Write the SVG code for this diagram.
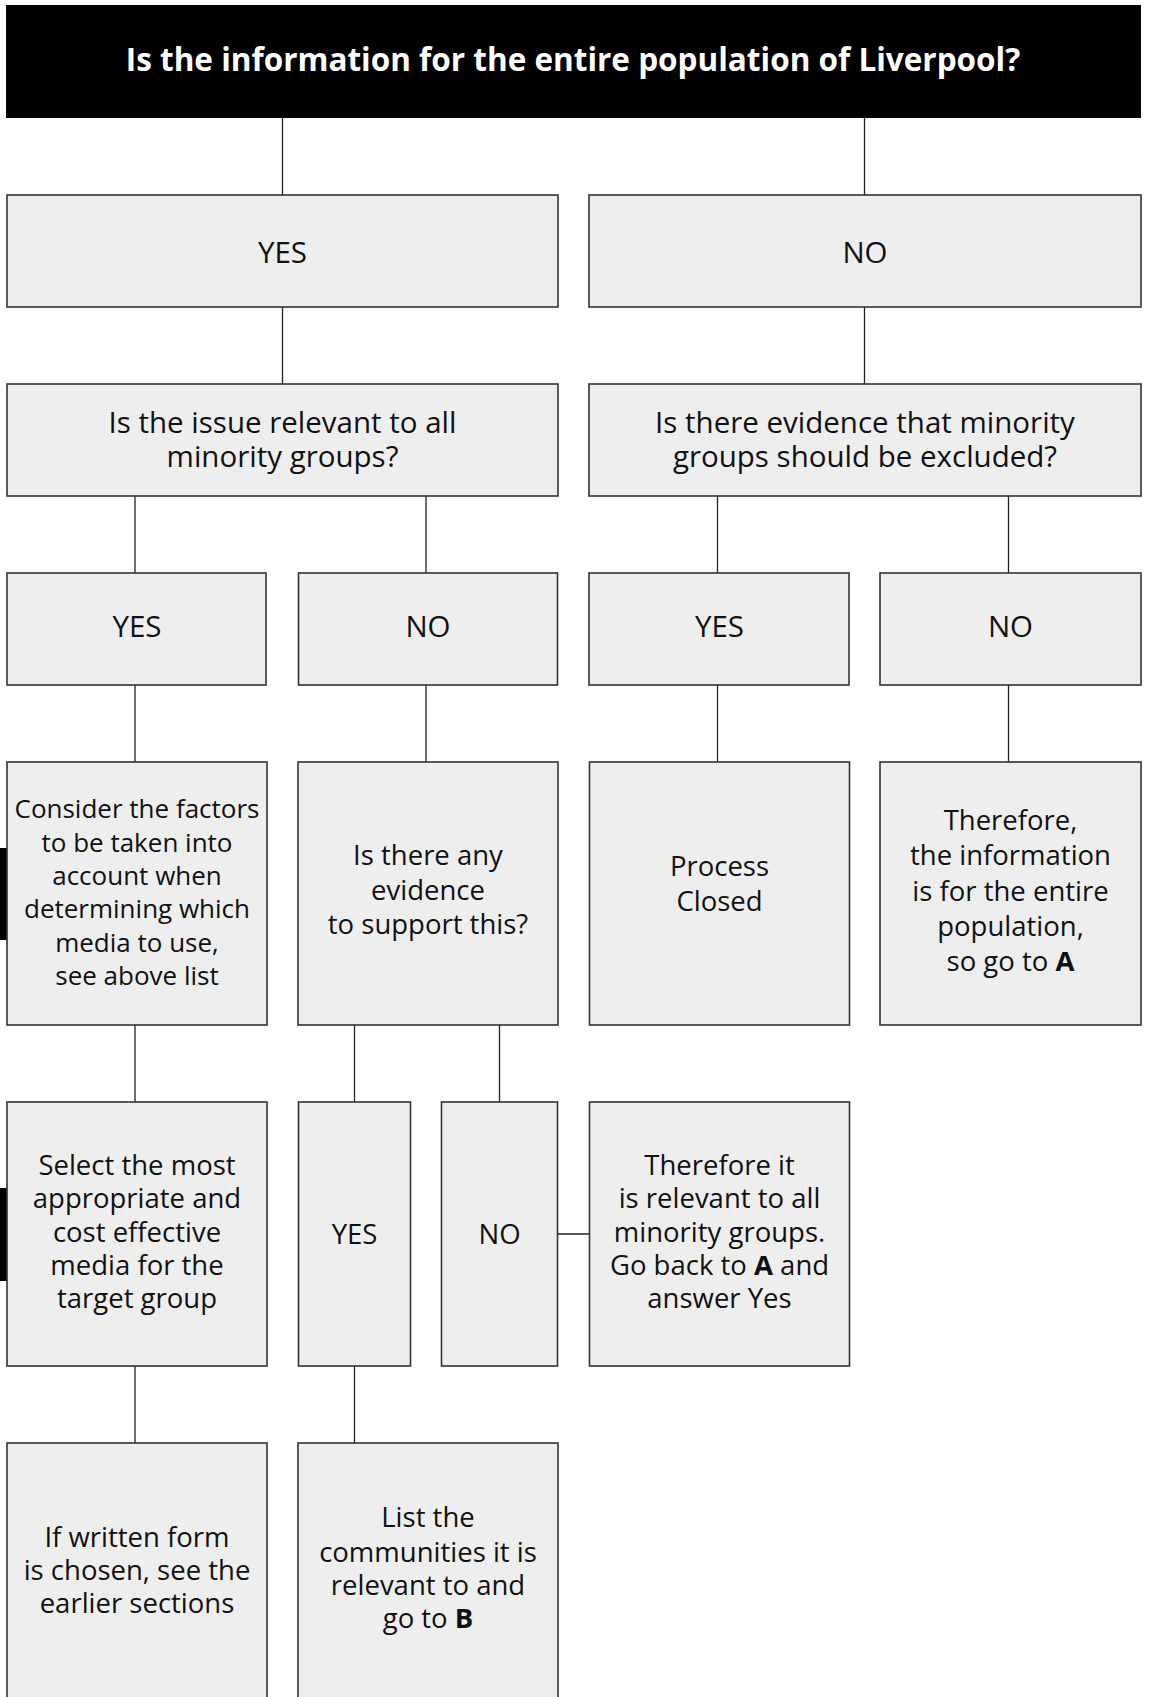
<svg xmlns="http://www.w3.org/2000/svg" width="1150" height="1697" viewBox="0 0 1150 1697">
<style>
.box{fill:#eeeeee;stroke:#333333;stroke-width:1.6}
.c{stroke:#222222;stroke-width:1.3;fill:none}
.t{font-family:"Open Sans","Liberation Sans",sans-serif;text-anchor:middle;fill:#111111}
.s26{font-size:26px}
.s27{font-size:27.5px}
.s29{font-size:29.5px}
.b{font-weight:bold}
</style>
<rect width="1150" height="1697" fill="#ffffff"/>
<rect x="0" y="848" width="7" height="92" fill="#000000"/>
<rect x="0" y="1188" width="7" height="93" fill="#000000"/>
<g id="connectors">
<path class="c" d="M282.5 118V195M282.5 307V384M864.5 118V195M864.5 307V384M135 496V573M135 685V762M135 1025V1102M135 1366V1443M426 496V573M426 685V762M717.5 496V573M717.5 685V762M1008.5 496V573M1008.5 685V762M354.5 1025V1102M354.5 1366V1443M499.5 1025V1102M557.7 1234H589.4"/>
</g>
<g id="title">
<rect x="6" y="5" width="1135" height="113" fill="#000000"/>
<text class="t b" x="573" y="71" style="font-size:31.5px;fill:#ffffff">Is the information for the entire population of Liverpool?</text>
</g>
<g id="yes1">
<rect class="box" x="7" y="195" width="551" height="112"/>
<text class="t s29" x="282.5" y="262.7">YES</text>
</g>
<g id="no1">
<rect class="box" x="589" y="195" width="552" height="112"/>
<text class="t s29" x="865" y="262.7">NO</text>
</g>
<g id="q-relevant">
<rect class="box" x="7" y="384" width="551" height="112"/>
<text class="t s29" x="282.5" y="432.7">Is the issue relevant to all</text>
<text class="t s29" x="282.5" y="467.3">minority groups?</text>
</g>
<g id="q-excluded">
<rect class="box" x="589" y="384" width="552" height="112"/>
<text class="t s29" x="865" y="432.7">Is there evidence that minority</text>
<text class="t s29" x="865" y="467.3">groups should be excluded?</text>
</g>
<g id="yes2">
<rect class="box" x="7" y="573" width="259" height="112"/>
<text class="t s29" x="137" y="636.7">YES</text>
</g>
<g id="no2">
<rect class="box" x="298.5" y="573" width="259" height="112"/>
<text class="t s29" x="428" y="636.7">NO</text>
</g>
<g id="yes3">
<rect class="box" x="589" y="573" width="260" height="112"/>
<text class="t s29" x="719.5" y="636.7">YES</text>
</g>
<g id="no3">
<rect class="box" x="880" y="573" width="261" height="112"/>
<text class="t s29" x="1010.5" y="636.7">NO</text>
</g>
<g id="consider">
<rect class="box" x="7" y="762" width="260" height="263"/>
<text class="t s26" x="137" y="818.3">Consider the factors</text>
<text class="t s26" x="137" y="851.7">to be taken into</text>
<text class="t s26" x="137" y="885">account when</text>
<text class="t s26" x="137" y="918.3">determining which</text>
<text class="t s26" x="137" y="951.7">media to use,</text>
<text class="t s26" x="137" y="985">see above list</text>
</g>
<g id="evidence">
<rect class="box" x="298" y="762" width="260" height="263"/>
<text class="t s27" x="428" y="865">Is there any</text>
<text class="t s27" x="428" y="899.5">evidence</text>
<text class="t s27" x="428" y="934">to support this?</text>
</g>
<g id="closed">
<rect class="box" x="589.5" y="762" width="260" height="263"/>
<text class="t s27" x="719.5" y="876">Process</text>
<text class="t s27" x="719.5" y="911">Closed</text>
</g>
<g id="entire">
<rect class="box" x="880" y="762" width="261" height="263"/>
<text class="t s27" x="1010.5" y="830">Therefore,</text>
<text class="t s27" x="1010.5" y="865">the information</text>
<text class="t s27" x="1010.5" y="900.5">is for the entire</text>
<text class="t s27" x="1010.5" y="935.5">population,</text>
<text class="t s27" x="1010.5" y="970.5">so go to <tspan class="b">A</tspan></text>
</g>
<g id="select">
<rect class="box" x="7" y="1102" width="260" height="264"/>
<text class="t s27" x="137" y="1175">Select the most</text>
<text class="t s27" x="137" y="1208.3">appropriate and</text>
<text class="t s27" x="137" y="1241.7">cost effective</text>
<text class="t s27" x="137" y="1275">media for the</text>
<text class="t s27" x="137" y="1308.3">target group</text>
</g>
<g id="yes4">
<rect class="box" x="298.5" y="1102" width="112" height="264"/>
<text class="t s27" x="354.5" y="1244">YES</text>
</g>
<g id="no4">
<rect class="box" x="441.5" y="1102" width="116" height="264"/>
<text class="t s27" x="499.5" y="1244">NO</text>
</g>
<g id="relevant-all">
<rect class="box" x="589.5" y="1102" width="260" height="264"/>
<text class="t s27" x="719.5" y="1175">Therefore it</text>
<text class="t s27" x="719.5" y="1208.3">is relevant to all</text>
<text class="t s27" x="719.5" y="1241.7">minority groups.</text>
<text class="t s27" x="719.5" y="1275">Go back to <tspan class="b">A</tspan> and</text>
<text class="t s27" x="719.5" y="1308.3">answer Yes</text>
</g>
<g id="written">
<rect class="box" x="7" y="1443" width="260" height="270"/>
<text class="t s27" x="137" y="1546.7">If written form</text>
<text class="t s27" x="137" y="1579.5">is chosen, see the</text>
<text class="t s27" x="137" y="1612.7">earlier sections</text>
</g>
<g id="list">
<rect class="box" x="298" y="1443" width="260" height="270"/>
<text class="t s27" x="428" y="1527.3">List the</text>
<text class="t s27" x="428" y="1561.7">communities it is</text>
<text class="t s27" x="428" y="1595">relevant to and</text>
<text class="t s27" x="428" y="1628.3">go to <tspan class="b">B</tspan></text>
</g>
</svg>
